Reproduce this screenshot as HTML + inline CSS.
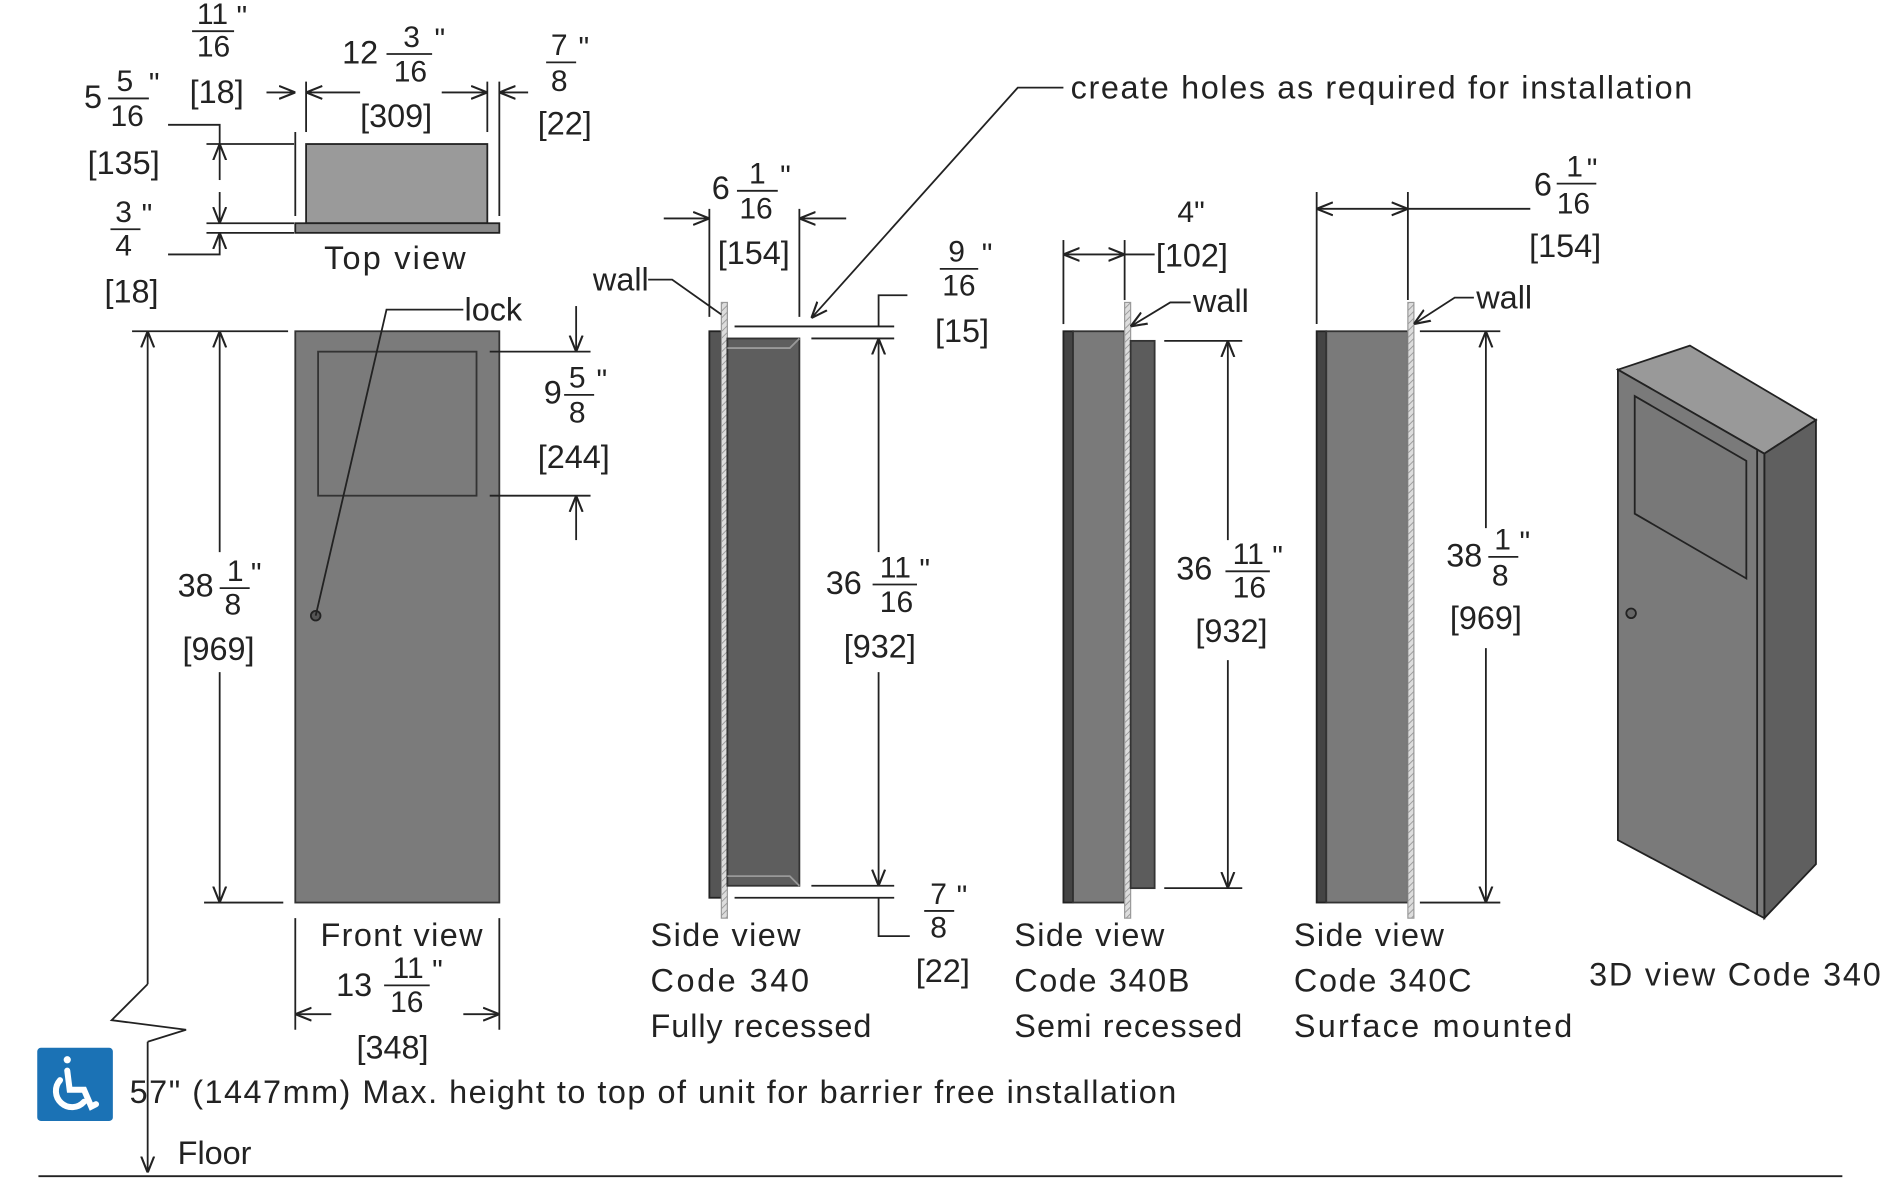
<!DOCTYPE html>
<html><head><meta charset="utf-8"><style>
html,body{margin:0;padding:0;background:#fff;width:1882px;height:1178px;overflow:hidden}
svg{display:block}
text{font-family:"Liberation Sans",sans-serif;fill:#222;font-size:27px}
.s{font-size:25px}
</style></head><body>
<svg width="1882" height="1178" viewBox="0 0 1568 981.5" xmlns="http://www.w3.org/2000/svg">
<defs>
<marker id="a" viewBox="0 0 10 10" refX="10" refY="5" markerWidth="9" markerHeight="9" orient="auto-start-reverse"><path d="M0,1 L10,5 L0,9" fill="none" stroke="#222" stroke-width="1.3"/></marker>
<pattern id="h" width="4" height="4" patternUnits="userSpaceOnUse" patternTransform="rotate(45)"><rect width="4" height="4" fill="#ddd"/><line x1="0" y1="0" x2="0" y2="4" stroke="#999" stroke-width="1.5"/></pattern>
</defs>
<g stroke="#222" stroke-width="1.5" fill="none">
<rect x="255" y="120" width="151" height="66" fill="#9a9a9a"/>
<rect x="246" y="186" width="170" height="8" fill="#8a8a8a"/>
<line x1="246" y1="110" x2="246" y2="180"/><line x1="255" y1="68" x2="255" y2="110"/>
<line x1="406" y1="68" x2="406" y2="110"/><line x1="416" y1="68" x2="416" y2="180"/>
<line x1="222" y1="77" x2="246" y2="77" marker-end="url(#a)"/>
<line x1="300" y1="77" x2="255" y2="77" marker-end="url(#a)"/>
<line x1="368" y1="77" x2="406" y2="77" marker-end="url(#a)"/>
<line x1="440" y1="77" x2="416" y2="77" marker-end="url(#a)"/>
<line x1="172" y1="120" x2="245" y2="120"/><line x1="172" y1="186" x2="245" y2="186"/><line x1="172" y1="194" x2="245" y2="194"/>
<polyline points="140,104 183,104 183,120"/>
<line x1="183" y1="150" x2="183" y2="120" marker-end="url(#a)"/>
<line x1="183" y1="160" x2="183" y2="186" marker-end="url(#a)"/>
<polyline points="140,212 183,212 183,194"/>
<line x1="183" y1="205" x2="183" y2="194" marker-end="url(#a)"/>
<rect x="246" y="276" width="170" height="476" fill="#7b7b7b" stroke="#333"/>
<rect x="265" y="293" width="132" height="120" fill="#7b7b7b" stroke="#333"/>
<circle cx="263" cy="513" r="4" fill="#555"/>
<polyline points="386,258 322,258 263,513"/>
<line x1="110" y1="276" x2="240" y2="276"/><line x1="170" y1="752" x2="236" y2="752"/>
<line x1="183" y1="460" x2="183" y2="276" marker-end="url(#a)"/>
<line x1="183" y1="560" x2="183" y2="752" marker-end="url(#a)"/>
<line x1="123" y1="276" x2="123" y2="820" marker-start="url(#a)"/>
<polyline points="123,820 93,850 155,858 123,868"/>
<line x1="123" y1="868" x2="123" y2="977" marker-end="url(#a)"/>
<line x1="408" y1="293" x2="492" y2="293"/><line x1="408" y1="413" x2="492" y2="413"/>
<line x1="480" y1="255" x2="480" y2="293" marker-end="url(#a)"/>
<line x1="480" y1="450" x2="480" y2="413" marker-end="url(#a)"/>
<line x1="246" y1="765" x2="246" y2="858"/><line x1="416" y1="765" x2="416" y2="858"/>
<line x1="276" y1="845" x2="246" y2="845" marker-end="url(#a)"/>
<line x1="386" y1="845" x2="416" y2="845" marker-end="url(#a)"/>
<rect x="591" y="276" width="10" height="472" fill="#555"/>
<rect x="601" y="252" width="5" height="513" fill="url(#h)" stroke="#999" stroke-width="1"/>
<rect x="606" y="282" width="60" height="456" fill="#5e5e5e" stroke="#333"/>
<polyline points="606,290 658,290 666,282" stroke="#999"/><polyline points="606,730 658,730 666,738" stroke="#999"/>
<line x1="591" y1="174" x2="591" y2="264"/><line x1="666" y1="174" x2="666" y2="264"/>
<line x1="553" y1="182" x2="591" y2="182" marker-end="url(#a)"/>
<line x1="705" y1="182" x2="666" y2="182" marker-end="url(#a)"/>
<polyline points="540,233 560,233 601,262"/>
<polyline points="886,73 848,73 676,265" marker-end="url(#a)"/>
<line x1="612" y1="272" x2="745" y2="272"/><line x1="676" y1="282" x2="745" y2="282"/>
<line x1="676" y1="738" x2="745" y2="738"/><line x1="612" y1="748" x2="745" y2="748"/>
<polyline points="756,246 732,246 732,272"/>
<line x1="732" y1="460" x2="732" y2="282" marker-end="url(#a)"/>
<line x1="732" y1="560" x2="732" y2="738" marker-end="url(#a)"/>
<polyline points="758,780 732,780 732,748"/>
<rect x="886" y="276" width="8" height="476" fill="#444"/>
<rect x="894" y="276" width="43" height="476" fill="#7a7a7a" stroke="#333"/>
<rect x="937" y="252" width="5" height="513" fill="url(#h)" stroke="#999" stroke-width="1"/>
<rect x="942" y="284" width="20" height="456" fill="#5c5c5c" stroke="#333"/>
<line x1="886" y1="200" x2="886" y2="270"/><line x1="937" y1="200" x2="937" y2="250"/>
<line x1="886" y1="212" x2="937" y2="212" marker-start="url(#a)" marker-end="url(#a)"/>
<line x1="937" y1="212" x2="962" y2="212"/>
<polyline points="992,252 975,252 942,272" marker-end="url(#a)"/>
<line x1="970" y1="284" x2="1035" y2="284"/><line x1="970" y1="740" x2="1035" y2="740"/>
<line x1="1023" y1="450" x2="1023" y2="284" marker-end="url(#a)"/>
<line x1="1023" y1="550" x2="1023" y2="740" marker-end="url(#a)"/>
<rect x="1097" y="276" width="8" height="476" fill="#444"/>
<rect x="1105" y="276" width="68" height="476" fill="#7a7a7a" stroke="#333"/>
<rect x="1173" y="252" width="5" height="513" fill="url(#h)" stroke="#999" stroke-width="1"/>
<line x1="1097" y1="160" x2="1097" y2="270"/><line x1="1173" y1="160" x2="1173" y2="250"/>
<line x1="1097" y1="174" x2="1173" y2="174" marker-start="url(#a)" marker-end="url(#a)"/>
<line x1="1173" y1="174" x2="1275" y2="174"/>
<polyline points="1228,248 1212,248 1178,270" marker-end="url(#a)"/>
<line x1="1183" y1="276" x2="1250" y2="276"/><line x1="1183" y1="752" x2="1250" y2="752"/>
<line x1="1238" y1="440" x2="1238" y2="276" marker-end="url(#a)"/>
<line x1="1238" y1="540" x2="1238" y2="752" marker-end="url(#a)"/>
<polygon points="1408,288 1513,350 1470,378 1348,308" fill="#999"/>
<polygon points="1470,378 1513,350 1513,720 1470,765" fill="#5f5f5f"/>
<polygon points="1348,308 1470,378 1470,765 1348,700" fill="#7a7a7a"/>
<line x1="1464" y1="375" x2="1464" y2="762"/>
<polygon points="1362,330 1455,384 1455,482 1362,428" fill="#787878"/>
<circle cx="1359" cy="511" r="4" fill="#666"/>
<line x1="32" y1="980" x2="1535" y2="980"/>
</g>
<rect x="31" y="873" width="63" height="61" rx="3" fill="#1b72b5"/>
<g stroke="#fff" stroke-width="5" fill="none" stroke-linecap="round"><circle cx="56" cy="883" r="3" fill="#fff" stroke="none"/><polyline points="56,892 58,908 70,908 76,922 80,920"/><path d="M50,900 A13,13 0 1 0 70,918"/></g>
<text x="70" y="90">5</text><text x="97" y="76" class="s">5</text><line x1="90" y1="82" x2="124" y2="82" stroke="#222" stroke-width="1.5"/><text x="92" y="105" class="s">16</text><text x="124" y="78" class="s">"</text>
<text x="73" y="145">[135]</text>
<text x="164" y="20" class="s">11</text><line x1="160" y1="26" x2="195" y2="26" stroke="#222" stroke-width="1.5"/><text x="164" y="47" class="s">16</text><text x="197" y="22" class="s">"</text>
<text x="158" y="86">[18]</text>
<text x="285" y="53">12</text><text x="336" y="39" class="s">3</text><line x1="322" y1="45" x2="360" y2="45" stroke="#222" stroke-width="1.5"/><text x="328" y="68" class="s">16</text><text x="362" y="41" class="s">"</text>
<text x="300" y="106">[309]</text>
<text x="459" y="46" class="s">7</text><line x1="455" y1="52" x2="480" y2="52" stroke="#222" stroke-width="1.5"/><text x="459" y="76" class="s">8</text><text x="482" y="48" class="s">"</text>
<text x="448" y="112">[22]</text>
<text x="96" y="185" class="s">3</text><line x1="92" y1="191" x2="117" y2="191" stroke="#222" stroke-width="1.5"/><text x="96" y="213" class="s">4</text><text x="118" y="187" class="s">"</text>
<text x="87" y="252">[18]</text>
<text x="270" y="224" textLength="118">Top view</text>
<text x="387" y="267">lock</text>
<text x="453" y="336">9</text><text x="474" y="323" class="s">5</text><line x1="470" y1="329" x2="495" y2="329" stroke="#222" stroke-width="1.5"/><text x="474" y="352" class="s">8</text><text x="497" y="325" class="s">"</text>
<text x="448" y="390">[244]</text>
<text x="148" y="497">38</text><text x="189" y="484" class="s">1</text><line x1="183" y1="490" x2="208" y2="490" stroke="#222" stroke-width="1.5"/><text x="187" y="512" class="s">8</text><text x="209" y="486" class="s">"</text>
<text x="152" y="550">[969]</text>
<text x="267" y="788" textLength="135">Front view</text>
<text x="280" y="830">13</text><text x="327" y="815" class="s">11</text><line x1="320" y1="821" x2="358" y2="821" stroke="#222" stroke-width="1.5"/><text x="325" y="843" class="s">16</text><text x="360" y="817" class="s">"</text>
<text x="297" y="882">[348]</text>
<text x="494" y="242">wall</text>
<text x="593" y="166">6</text><text x="624" y="153" class="s">1</text><line x1="614" y1="159" x2="648" y2="159" stroke="#222" stroke-width="1.5"/><text x="616" y="182" class="s">16</text><text x="650" y="155" class="s">"</text>
<text x="598" y="220">[154]</text>
<text x="892" y="82" textLength="518">create holes as required for installation</text>
<text x="790" y="218" class="s">9</text><line x1="783" y1="224" x2="815" y2="224" stroke="#222" stroke-width="1.5"/><text x="785" y="246" class="s">16</text><text x="818" y="220" class="s">"</text>
<text x="779" y="285">[15]</text>
<text x="688" y="495">36</text><text x="733" y="481" class="s">11</text><line x1="727" y1="487" x2="764" y2="487" stroke="#222" stroke-width="1.5"/><text x="733" y="510" class="s">16</text><text x="766" y="483" class="s">"</text>
<text x="703" y="548">[932]</text>
<text x="775" y="753" class="s">7</text><line x1="770" y1="759" x2="795" y2="759" stroke="#222" stroke-width="1.5"/><text x="775" y="781" class="s">8</text><text x="797" y="755" class="s">"</text>
<text x="763" y="818">[22]</text>
<text x="542" y="788" textLength="125">Side view</text><text x="542" y="826" textLength="132">Code 340</text><text x="542" y="864" textLength="184">Fully recessed</text>
<text x="981" y="185" class="s">4"</text>
<text x="963" y="222">[102]</text>
<text x="994" y="260">wall</text>
<text x="980" y="483">36</text><text x="1027" y="470" class="s">11</text><line x1="1021" y1="476" x2="1058" y2="476" stroke="#222" stroke-width="1.5"/><text x="1027" y="498" class="s">16</text><text x="1060" y="472" class="s">"</text>
<text x="996" y="535">[932]</text>
<text x="845" y="788" textLength="125">Side view</text><text x="845" y="826" textLength="146">Code 340B</text><text x="845" y="864" textLength="190">Semi recessed</text>
<text x="1278" y="163">6</text><text x="1305" y="147" class="s">1</text><line x1="1297" y1="153" x2="1330" y2="153" stroke="#222" stroke-width="1.5"/><text x="1297" y="178" class="s">16</text><text x="1322" y="149" class="s">"</text>
<text x="1274" y="214">[154]</text>
<text x="1230" y="257">wall</text>
<text x="1205" y="472">38</text><text x="1245" y="458" class="s">1</text><line x1="1240" y1="464" x2="1265" y2="464" stroke="#222" stroke-width="1.5"/><text x="1243" y="488" class="s">8</text><text x="1266" y="460" class="s">"</text>
<text x="1208" y="524">[969]</text>
<text x="1078" y="788" textLength="125">Side view</text><text x="1078" y="826" textLength="148">Code 340C</text><text x="1078" y="864" textLength="232">Surface mounted</text>
<text x="1324" y="821" textLength="243">3D view Code 340</text>
<text x="108" y="919" textLength="872">57" (1447mm) Max. height to top of unit for barrier free installation</text>
<text x="148" y="970">Floor</text>
</svg>
</body></html>
